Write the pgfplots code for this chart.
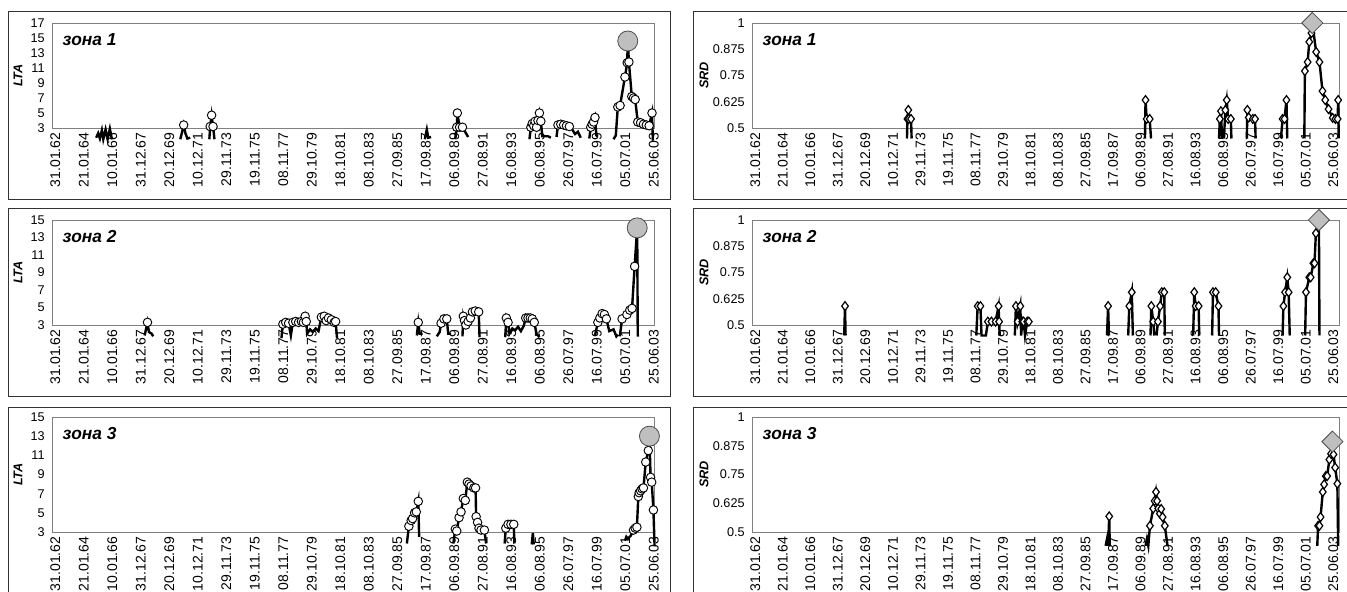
\documentclass[border=0pt]{standalone}
\usepackage{pgfplots}
\pgfplotsset{compat=1.18}
\usepackage{pgfplotstable}
\usepackage{fontspec}
\setmainfont{Liberation Sans}

% LTA, zone 1
\pgfplotstableread{
x y
1.55 1.7
1.62 2.3
1.68 1.6
1.75 2.7
1.8 1.5
1.88 2.8
1.95 1.5
2.03 2.9
2.1 1.5
nan nan
4.5 1.5
4.56 2.4
4.62 3.4
4.68 2.3
4.75 1.6
4.85 1.7
nan nan
5.52 1.5
5.55 3.2
5.6 4.7
5.65 3.2
5.7 1.5
nan nan
13.08 1.5
13.15 2.8
13.2 1.7
13.3 1.8
nan nan
14.15 1.5
14.2 3.1
14.22 5.0
14.3 3.1
14.4 3.1
14.6 1.8
nan nan
16.75 1.5
16.8 3.1
16.85 3.6
16.9 3.3
16.95 3.9
17.0 3.1
17.05 4.0
17.1 5.0
17.15 3.9
17.2 1.9
17.4 1.9
17.5 1.7
nan nan
17.7 1.8
17.75 3.4
17.85 3.5
17.95 3.4
18.05 3.3
18.15 3.2
18.25 2.8
18.35 2.2
18.45 2.5
18.55 1.7
nan nan
18.85 1.6
18.9 3.1
18.95 3.5
19.0 3.8
19.05 4.4
19.1 2.0
19.15 1.9
nan nan
19.7 1.5
19.78 2.0
19.85 5.8
19.93 6.0
20.1 9.8
20.18 11.7
20.2 14.6
20.24 11.8
20.34 7.2
20.4 7.0
20.46 6.8
20.55 3.8
20.65 3.7
20.75 3.5
20.85 3.4
20.95 3.3
21.05 5.0
21.08 1.3
}\ltaA

% SRD, zone 1
\pgfplotstableread{
x y
5.63 0.45
5.65 0.543
5.68 0.586
5.7 0.543
5.78 0.543
5.8 0.45
nan nan
14.28 0.45
14.3 0.633
14.34 0.543
14.45 0.543
14.5 0.45
nan nan
16.97 0.45
17.0 0.543
17.04 0.58
17.08 0.45
nan nan
17.15 0.45
17.2 0.585
17.25 0.633
17.3 0.543
17.4 0.543
17.42 0.45
nan nan
17.98 0.45
18.0 0.586
18.05 0.55
18.2 0.543
18.28 0.543
18.3 0.45
nan nan
19.22 0.45
19.28 0.543
19.35 0.543
19.42 0.633
19.45 0.45
nan nan
20.07 0.45
20.09 0.771
20.19 0.814
20.25 0.91
20.33 0.952
20.36 1.0
20.5 0.862
20.62 0.814
20.73 0.676
20.83 0.633
20.95 0.59
21.1 0.548
21.2 0.543
21.28 0.543
21.3 0.633
21.32 0.45
}\srdA

% LTA, zone 2
\pgfplotstableread{
x y
3.25 1.8
3.35 3.3
3.4 2.2
3.5 2.0
3.55 1.7
nan nan
8.05 1.5
8.1 3.1
8.2 3.3
8.3 3.2
8.38 1.8
8.45 3.3
8.55 3.4
8.65 3.3
8.75 3.4
8.82 3.3
8.88 4.0
8.92 3.4
8.95 2.0
9.05 2.5
9.15 2.2
9.25 2.6
9.35 2.3
9.45 3.9
9.55 4.0
9.62 3.5
9.7 3.8
9.8 3.6
9.9 3.3
9.95 3.4
10.0 1.5
nan nan
12.8 1.8
12.85 3.3
12.9 2.0
13.0 2.0
nan nan
13.5 1.7
13.6 2.2
13.65 3.2
13.75 3.7
13.85 3.7
13.9 2.0
14.0 2.0
nan nan
14.4 1.7
14.43 4.0
14.47 3.5
14.52 3.0
14.6 3.4
14.68 3.8
14.75 4.5
14.85 4.6
14.97 4.5
15.0 1.6
nan nan
15.9 1.6
15.94 3.8
16.0 3.3
16.05 2.0
16.15 2.6
16.25 2.4
16.35 2.8
16.45 2.3
16.55 2.9
16.62 3.8
16.7 3.8
16.78 3.8
16.85 3.7
16.92 3.3
17.0 2.0
17.1 1.6
nan nan
19.05 1.8
19.15 3.3
19.22 3.8
19.3 4.3
19.38 4.2
19.45 3.7
19.55 2.3
19.7 2.5
19.8 1.7
19.85 1.9
nan nan
19.92 1.7
20.0 3.7
20.17 4.2
20.27 4.7
20.35 4.9
20.44 9.7
20.53 14.1
20.55 1.8
20.6 1.8
}\ltaB

% SRD, zone 2
\pgfplotstableread{
x y
3.35 0.45
3.38 0.59
3.4 0.45
nan nan
8.15 0.45
8.2 0.59
8.3 0.59
8.34 0.45
8.5 0.45
8.57 0.516
8.7 0.516
8.85 0.516
8.96 0.59
8.98 0.516
9.0 0.45
nan nan
9.55 0.45
9.59 0.59
9.65 0.516
9.75 0.59
9.78 0.45
9.82 0.516
9.87 0.516
9.92 0.45
10.0 0.516
10.06 0.516
nan nan
12.9 0.45
12.94 0.59
12.97 0.45
nan nan
13.67 0.45
13.71 0.59
13.8 0.656
13.84 0.45
nan nan
14.48 0.45
14.51 0.59
14.58 0.516
14.62 0.45
nan nan
14.7 0.45
14.75 0.516
14.83 0.59
14.89 0.656
14.98 0.656
15.0 0.45
nan nan
16.03 0.45
16.07 0.656
16.12 0.59
16.23 0.59
16.25 0.45
nan nan
16.72 0.45
16.75 0.656
16.85 0.656
16.95 0.59
16.97 0.45
nan nan
19.28 0.45
19.31 0.59
19.37 0.656
19.45 0.727
19.5 0.656
19.54 0.45
nan nan
20.1 0.45
20.13 0.656
20.25 0.727
20.3 0.727
20.4 0.794
20.44 0.794
20.49 0.937
20.6 1.0
20.62 0.45
}\srdB

% LTA, zone 3
\pgfplotstableread{
x y
12.45 1.8
12.52 3.6
12.6 4.2
12.65 4.4
12.72 5.0
12.78 5.1
12.85 6.2
12.88 2.5
nan nan
14.08 1.8
14.15 3.3
14.2 3.1
14.28 4.5
14.35 5.1
14.43 6.5
14.5 6.3
14.57 8.2
14.63 8.0
14.7 7.8
14.8 7.6
14.86 7.6
14.88 4.6
14.93 4.0
14.98 3.4
15.05 3.2
15.17 3.2
15.23 1.8
nan nan
15.88 1.8
15.92 3.4
16.0 3.8
16.1 3.8
16.2 3.8
16.22 1.8
nan nan
16.83 1.7
16.87 2.9
16.9 1.7
nan nan
20.1 2.1
20.15 2.5
20.2 2.3
20.3 2.6
20.4 3.2
20.46 3.4
20.52 3.5
20.57 6.7
20.6 7.1
20.65 7.3
20.7 7.5
20.75 7.6
20.83 10.3
20.92 11.5
20.96 13.0
21.0 8.7
21.04 8.2
21.1 5.3
21.14 1.5
}\ltaC

% SRD, zone 3
\pgfplotstableread{
x y
12.85 0.44
12.9 0.47
12.94 0.44
12.98 0.568
13.0 0.44
nan nan
14.3 0.44
14.35 0.47
14.4 0.44
14.46 0.527
14.58 0.602
14.63 0.635
14.68 0.674
14.72 0.635
14.76 0.602
14.82 0.58
14.87 0.6
14.92 0.565
15.0 0.527
15.1 0.44
nan nan
20.54 0.44
20.57 0.527
20.62 0.527
20.66 0.565
20.74 0.674
20.79 0.707
20.85 0.743
20.9 0.743
20.98 0.815
21.04 0.84
21.09 0.893
21.13 0.837
21.19 0.78
21.27 0.71
21.3 0.44
}\srdC

\pgfplotsset{
  panel/.style={
    scale only axis, clip=false, anchor=south west,
    axis line style={draw=black!50, line width=0.5pt},
    xmin=0, xtick={0,...,21},
    xticklabels={31.01.62,21.01.64,10.01.66,31.12.67,20.12.69,10.12.71,29.11.73,19.11.75,08.11.77,29.10.79,18.10.81,08.10.83,27.09.85,17.09.87,06.09.89,27.08.91,16.08.93,06.08.95,26.07.97,16.07.99,05.07.01,25.06.03},
    xticklabel style={rotate=90, anchor=east, font=\fontsize{10.5}{11}\selectfont, yshift=-2.5pt},
    yticklabel style={font=\fontsize{9.5}{10}\selectfont, xshift=-2pt},
    major tick length=0pt, tick style={draw=none},
    ylabel style={anchor=center, font=\bfseries\itshape\fontsize{9.5}{10}\selectfont},
  },
  leftp/.style={width=451.5pt, xmax=21.12, ylabel={LTA},
    ylabel style={at={(axis description cs:-0.0565,0.5)}},
    ymin=3, ytick={3,5,...,17}, yticklabels={3,5,7,9,11,13,15,17}},
  rightp/.style={width=440.25pt, xmax=21.33, ylabel={SRD},
    ylabel style={at={(axis description cs:-0.0818,0.5)}},
    ymin=0.5, ymax=1, ytick={0.5,0.625,0.75,0.875,1},
    yticklabels={0.5,0.625,0.75,0.875,1}},
  series/.style={black, line width=1.8pt, unbounded coords=jump, mark=none},
  circ/.style={only marks, mark=*, mark size=3.2pt,
    mark options={fill=white, draw=black, line width=0.7pt},
    restrict y to domain=3:100},
  bigcirc/.style={only marks, mark=*, mark size=7.5pt,
    mark options={fill=black!25, draw=black!70, line width=0.6pt}},
  diam/.style={only marks, mark=diamond*, mark size=3.3pt,
    mark options={fill=white, draw=black, line width=0.9pt},
    restrict y to domain=0.5:2},
  bigdiam/.style={only marks, mark=square*, mark size=5.6pt,
    mark options={rotate=45, fill=black!25, draw=black!70, line width=0.6pt}},
}
\tikzset{zone/.style={anchor=west, font=\bfseries\itshape\fontsize{13}{14}\selectfont}}

\begin{document}
\begin{tikzpicture}
\path[use as bounding box] (0pt,0pt) rectangle (1010.25pt,444pt);
% chart frames
\draw[black!80, line width=0.7pt] (6pt,294.75pt) rectangle (502.5pt,435.75pt);
\draw[black!80, line width=0.7pt] (519.75pt,294.75pt) rectangle (1016pt,435.75pt);
\draw[black!80, line width=0.7pt] (6pt,147pt) rectangle (502.5pt,288pt);
\draw[black!80, line width=0.7pt] (519.75pt,147pt) rectangle (1016pt,288pt);
\draw[black!80, line width=0.7pt] (6pt,-10pt) rectangle (502.5pt,138.75pt);
\draw[black!80, line width=0.7pt] (519.75pt,-10pt) rectangle (1016pt,138.75pt);

% row 1
\begin{axis}[panel, leftp, at={(39pt,348pt)}, height=78.75pt, ymax=17]
  \addplot[series] table {\ltaA};
  \addplot[circ] table {\ltaA};
  \addplot[bigcirc] coordinates {(20.2,14.6)};
  \node[zone] at (rel axis cs:0,1) [xshift=4.5pt, yshift=-12.75pt] {зона 1};
\end{axis}
\begin{axis}[panel, rightp, at={(564pt,348pt)}, height=78.75pt]
  \addplot[series] table {\srdA};
  \addplot[diam] table {\srdA};
  \addplot[bigdiam] coordinates {(20.36,1.0)};
  \node[zone] at (rel axis cs:0,1) [xshift=4.5pt, yshift=-12.75pt] {зона 1};
\end{axis}

% row 2
\begin{axis}[panel, leftp, at={(39pt,200.25pt)}, height=78.75pt, ymax=15]
  \addplot[series] table {\ltaB};
  \addplot[circ] table {\ltaB};
  \addplot[bigcirc] coordinates {(20.53,14.1)};
  \node[zone] at (rel axis cs:0,1) [xshift=4.5pt, yshift=-12.75pt] {зона 2};
\end{axis}
\begin{axis}[panel, rightp, at={(564pt,200.25pt)}, height=78.75pt]
  \addplot[series] table {\srdB};
  \addplot[diam] table {\srdB};
  \addplot[bigdiam] coordinates {(20.6,1.0)};
  \node[zone] at (rel axis cs:0,1) [xshift=4.5pt, yshift=-12.75pt] {зона 2};
\end{axis}

% row 3
\begin{axis}[panel, leftp, at={(39pt,45pt)}, height=86.25pt, ymax=15]
  \addplot[series] table {\ltaC};
  \addplot[circ] table {\ltaC};
  \addplot[bigcirc] coordinates {(20.96,13.0)};
  \node[zone] at (rel axis cs:0,1) [xshift=4.5pt, yshift=-12.75pt] {зона 3};
\end{axis}
\begin{axis}[panel, rightp, at={(564pt,45pt)}, height=86.25pt]
  \addplot[series] table {\srdC};
  \addplot[diam] table {\srdC};
  \addplot[bigdiam] coordinates {(21.09,0.893)};
  \node[zone] at (rel axis cs:0,1) [xshift=4.5pt, yshift=-12.75pt] {зона 3};
\end{axis}
\end{tikzpicture}
\end{document}
